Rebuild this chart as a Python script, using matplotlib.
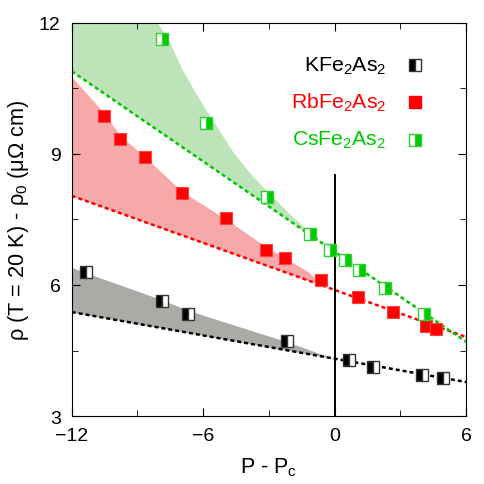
import numpy as np
import matplotlib.pyplot as plt
from matplotlib.ticker import MultipleLocator

plt.rcParams['font.family'] = ['Liberation Sans', 'DejaVu Sans']
plt.rcParams['mathtext.fontset'] = 'custom'
plt.rcParams['mathtext.rm'] = 'Liberation Sans'
plt.rcParams['mathtext.it'] = 'Liberation Sans'

# KFe2As2
k_x = [-11.36, -7.89, -6.70, -2.18, 0.65, 1.74, 3.98, 4.94]
k_y = [6.30, 5.63, 5.34, 4.72, 4.28, 4.12, 3.94, 3.87]
k_line_x = [-12, 6]
k_line_y = [5.38, 3.78]
k_band_x = [-12, -11.36, -7.89, -6.70, -2.18, 0.0]
k_band_y = [6.40, 6.28, 5.66, 5.42, 4.70, 4.31]

# RbFe2As2
rb_x = [-10.54, -9.81, -8.67, -6.98, -4.97, -3.14, -2.27, -0.63, 1.06, 2.66, 4.16, 4.62]
rb_y = [9.87, 9.34, 8.93, 8.11, 7.53, 6.80, 6.62, 6.11, 5.73, 5.38, 5.06, 4.99]
rb_line_x = [-12, 6]
rb_line_y = [8.04, 4.81]
rb_band_x = [-12, -10.5, -9.8, -8.7, -7.0, -5.0, -3.1, -2.2, -1.2, -0.54]
rb_band_y = [10.76, 9.92, 9.42, 8.95, 8.15, 7.52, 6.86, 6.60, 6.30, 5.98]

# CsFe2As2
cs_x = [-7.89, -5.88, -3.10, -1.13, -0.22, 0.47, 1.10, 2.29, 4.07]
cs_y = [11.63, 9.71, 8.02, 7.17, 6.80, 6.57, 6.34, 5.93, 5.34]
cs_line_x = [-12, 6]
cs_line_y = [10.89, 4.70]
cs_band_x = [-12, -10, -8.8, -8.1, -7.6, -6.98, -6.3, -5.61, -4.65, -3.8, -2.87, -2.0, -1.13, -0.68]
cs_band_y = [14.0, 13.0, 12.55, 12.0, 11.63, 10.95, 10.35, 9.80, 9.05, 8.52, 8.04, 7.60, 7.21, 7.0]

fig = plt.figure(figsize=(4.85, 4.85), dpi=100)
ax = fig.add_axes([0.148, 0.140, 0.813, 0.811])

def band(bx, by, lx, ly, color):
    bx = np.array(bx)
    low = np.interp(bx, lx, ly)
    ax.fill_between(bx, low, by, color=color, lw=0, zorder=1)

band(k_band_x, k_band_y, k_line_x, k_line_y, '#aaaaa6')
band(rb_band_x, rb_band_y, rb_line_x, rb_line_y, '#f7a8a8')
band(cs_band_x, cs_band_y, cs_line_x, cs_line_y, '#bde3b9')

dots = (0, (1.6, 1.2))
ax.plot(k_line_x, k_line_y, color='black', ls=dots, lw=1.8, zorder=2)
ax.plot(rb_line_x, rb_line_y, color='#ff0000', ls=dots, lw=1.8, zorder=2)
ax.plot(cs_line_x, cs_line_y, color='#00c800', ls=dots, lw=1.8, zorder=2)

ax.plot([0, 0], [3, 8.52], color='black', lw=1.4, zorder=2)

ms = 8.5
ax.plot(k_x, k_y, 's', ms=ms, fillstyle='left', markerfacecolor='black',
        markerfacecoloralt='white', markeredgecolor='#333333', mew=1.0,
        ls='none', zorder=3)
ax.plot(rb_x, rb_y, 's', ms=ms, color='#ff0000', mec='#ff4040', mew=0.8,
        ls='none', zorder=3)
ax.plot(cs_x, cs_y, 's', ms=ms, fillstyle='right', markerfacecolor='#00c800',
        markerfacecoloralt='white', markeredgecolor='#30d030', mew=1.0,
        ls='none', zorder=3)

# legend drawn by hand
leg = [('KFe$_2$As$_2$', 'black'), ('RbFe$_2$As$_2$', '#ff0000'),
       ('CsFe$_2$As$_2$', '#00c800')]
for i, (lab, col) in enumerate(leg):
    yy = 0.893 - i * 0.095
    ax.text(0.797, yy, lab, color=col, fontsize=15.3, ha='right', va='center',
            transform=ax.transAxes)
ax.plot([0.87], [0.893], 's', ms=ms, fillstyle='left', markerfacecolor='black',
        markerfacecoloralt='white', markeredgecolor='#333333', mew=1.0,
        transform=ax.transAxes, clip_on=False)
ax.plot([0.87], [0.798], 's', ms=ms, color='#ff0000', transform=ax.transAxes,
        clip_on=False)
ax.plot([0.87], [0.703], 's', ms=ms, fillstyle='right', markerfacecolor='#00c800',
        markerfacecoloralt='white', markeredgecolor='#30d030', mew=1.0,
        transform=ax.transAxes, clip_on=False)

ax.set_xlim(-12, 6)
ax.set_ylim(3, 12)
ax.set_xticks([-12, -6, 0, 6])
ax.set_yticks([3, 6, 9, 12])
ax.xaxis.set_minor_locator(MultipleLocator(3))
ax.yaxis.set_minor_locator(MultipleLocator(1.5))
ax.tick_params(which='both', direction='in', top=True, right=True,
               labelsize=14, pad=8)
ax.tick_params(which='major', length=6)
ax.tick_params(which='minor', length=4)
ax.set_xlabel('P - P$_c$', fontsize=15.5, labelpad=8)
ax.set_ylabel('ρ (T = 20 K) - ρ$_0$ (μΩ cm)', fontsize=15.7, labelpad=6)

plt.savefig('out.png', dpi=100)
